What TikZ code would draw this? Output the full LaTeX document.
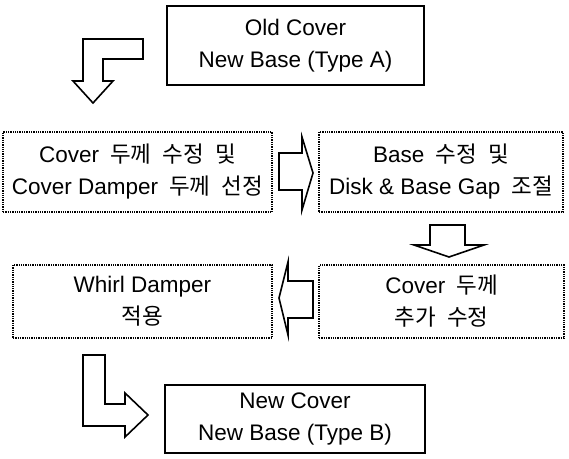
\documentclass[tikz,border=0pt]{standalone}
\usepackage{fontspec}
\setmainfont{Liberation Sans}
\newfontfamily\kr[WordSpace=2.2]{Noto Sans CJK KR}
\begin{document}
\begin{tikzpicture}[x=1pt,y=-1pt,
  txt/.style={align=center, inner sep=0pt, font=\fontsize{22.5}{32}\selectfont},
  solidbox/.style={txt, draw, line width=2.2pt},
  dotbox/.style={txt, draw, densely dotted, line width=1.3pt},
  blockarrow/.style={draw, line width=1.6pt, fill=white, line join=miter}]
\useasboundingbox (0,0) rectangle (569,458);
\node[solidbox, minimum width=257pt, minimum height=79pt] (top) at (295.5,45.5) {Old Cover\\New Base (Type A)};
\node[dotbox, minimum width=269pt, minimum height=80pt] (r1l) at (137.5,172) {Cover{\kr{} 두께 수정 및}\\Cover Damper{\kr{} 두께 선정}};
\node[dotbox, minimum width=244pt, minimum height=80pt] (r1r) at (441,172) {Base{\kr{} 수정 및}\\Disk \& Base Gap{\kr{} 조절}};
\node[dotbox, minimum width=259pt, minimum height=73pt] (r2l) at (142.5,301.5) {Whirl Damper\\{\kr 적용}};
\node[dotbox, minimum width=245pt, minimum height=73pt] (r2r) at (441.5,301.5) {Cover{\kr{} 두께}\\{\kr 추가 수정}};
\node[solidbox, minimum width=260pt, minimum height=68pt] (bot) at (295,419) {New Cover\\New Base (Type B)};
% top-left bent arrow
\draw[blockarrow] (143,39) -- (83,39) -- (83,81) -- (73,81) -- (93,103) -- (113,81) -- (103,81) -- (103,59) -- (143,59) -- cycle;
% row1 right arrow
\draw[blockarrow] (279,153) -- (302,153) -- (302,137) -- (313,173) -- (302,210) -- (302,190) -- (279,190) -- cycle;
% down arrow
\draw[blockarrow] (430,225) -- (465,225) -- (465,245) -- (484,245) -- (449,257) -- (414,245) -- (430,245) -- cycle;
% row2 left arrow
\draw[blockarrow] (313,281) -- (288,281) -- (288,262) -- (279,298) -- (288,335) -- (288,318) -- (313,318) -- cycle;
% bottom bent arrow
\draw[blockarrow] (83,355) -- (105,355) -- (105,404) -- (125,404) -- (125,393) -- (148,415) -- (125,437) -- (125,426) -- (83,426) -- cycle;
\end{tikzpicture}
\end{document}
